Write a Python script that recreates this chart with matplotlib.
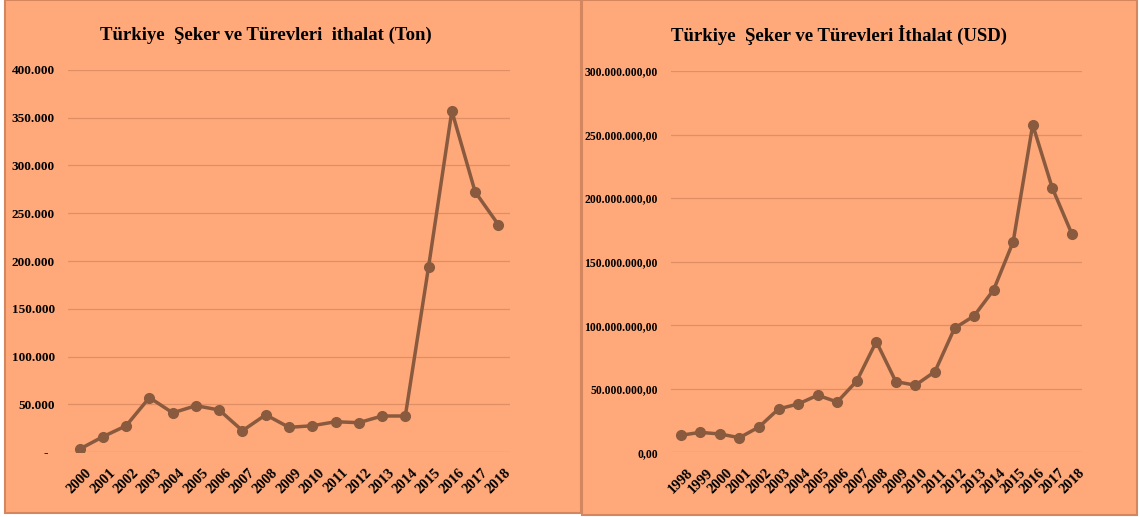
import matplotlib.pyplot as plt
from matplotlib.patches import Rectangle
from matplotlib.ticker import FuncFormatter

plt.rcParams['font.family'] = ['Liberation Serif', 'DejaVu Serif']
plt.rcParams['font.weight'] = 'bold'

# data
years_ton = list(range(2000, 2019))
ton = [3000, 16000, 27500, 57000, 41000, 48500, 44000, 22300, 39000, 25800,
       27500, 31700, 30700, 37700, 37700, 194000, 357000, 272500, 238000]

years_usd = list(range(1998, 2019))
usd = [13.4e6, 15.7e6, 14.4e6, 11.5e6, 19.9e6, 34.1e6, 38.0e6, 44.9e6, 39.6e6,
       56.1e6, 87.1e6, 55.6e6, 52.8e6, 63.5e6, 97.6e6, 107.3e6, 127.8e6,
       165.6e6, 257.7e6, 208.0e6, 171.9e6]

title_ton = 'Türkiye  Şeker ve Türevleri  ithalat (Ton)'
title_usd = 'Türkiye  Şeker ve Türevleri İthalat (USD)'

bg = '#FFA97A'
line_c = '#8A5A3E'
grid_c = '#E08E66'
edge_c = '#D4875E'

W, H = 1140, 517
fig = plt.figure(figsize=(W / 100, H / 100), dpi=100, facecolor='white')

# panel backgrounds (pixels from top-left)
for x0, y0, w, h in [(5, 0, 576, 513), (582, 0, 555, 515)]:
    fig.patches.append(Rectangle((x0 / W, 1 - (y0 + h) / H), w / W, h / H,
                                 transform=fig.transFigure, facecolor=bg,
                                 edgecolor=edge_c, linewidth=1.5, zorder=-1))


def fmt_ton(v, pos):
    if abs(v) < 1:
        return '-  '
    return f'{int(round(v)):,}'.replace(',', '.')


def fmt_usd(v, pos):
    s = f'{v:,.2f}'
    return s.replace(',', 'X').replace('.', ',').replace('X', '.')


def style(ax, years, vals, ymax, step, fmt, ysize):
    ax.set_facecolor(bg)
    ax.plot(years, vals, color=line_c, linewidth=2.5, marker='o',
            markersize=7, zorder=3)
    ax.set_xlim(years[0] - 0.5, years[-1] + 0.5)
    ax.set_ylim(0, ymax)
    ax.set_yticks(range(0, int(ymax) + 1, int(step)))
    ax.yaxis.set_major_formatter(FuncFormatter(fmt))
    ax.set_xticks(years)
    ax.set_xticklabels([str(y) for y in years], rotation=45,
                       fontsize=10.5, fontweight='bold')
    for lab in ax.get_yticklabels():
        lab.set_fontsize(ysize)
        lab.set_fontweight('bold')
    ax.tick_params(axis='both', length=0)
    ax.tick_params(axis='y', pad=9.5)
    ax.tick_params(axis='x', pad=10)
    ax.grid(axis='y', color=grid_c, linewidth=0.9)
    ax.set_axisbelow(True)
    for s in ax.spines.values():
        s.set_visible(False)


ax1 = fig.add_axes([68 / W, (H - 452) / H, 442 / W, 382 / H])
style(ax1, years_ton, ton, 400000, 50000, fmt_ton, 9.5)
ax1.set_title(title_ton, fontsize=13.5, fontweight='bold', pad=22, x=0.448)

ax2 = fig.add_axes([671 / W, (H - 452.3) / H, 410.6 / W, 381.3 / H])
style(ax2, years_usd, usd, 300e6, 50e6, fmt_usd, 8.4)
ax2.set_title(title_usd, fontsize=13.5, fontweight='bold', pad=22, x=0.41)

fig.savefig('out.png', dpi=100, facecolor='white')
